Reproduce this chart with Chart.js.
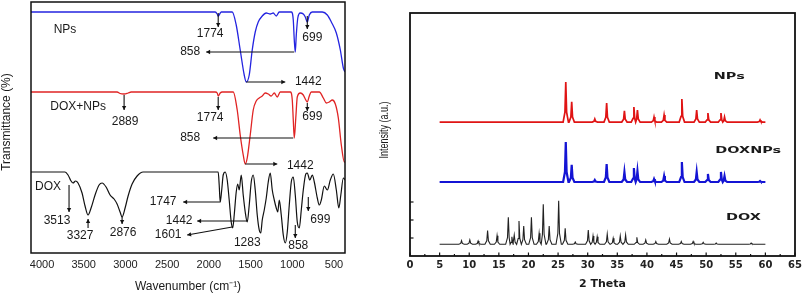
<!DOCTYPE html>
<html>
<head>
<meta charset="utf-8">
<script src="https://cdn.jsdelivr.net/npm/chart.js@4.4.1/dist/chart.umd.min.js"></script>
<style>
  html, body { margin: 0; padding: 0; background: #fff; }
  #ftir { position: absolute; left: 0; top: 0; }
  #xrd { position: absolute; left: 360px; top: 0; }
</style>
</head>
<body>
<canvas id="ftir" width="360" height="296"></canvas>
<canvas id="xrd" width="450" height="296"></canvas>
<script>
// ---- FTIR spectra: [wavenumber cm-1, transmittance (offset, arbitrary)] ----
const npsSpectrum = [
  [4132, 241], [1924, 241], [1900, 239], [1888, 237], [1870, 239], [1852, 241],
  [1720, 241], [1672, 228], [1624, 203], [1576, 178], [1552, 171], [1516, 178],
  [1480, 203], [1444, 221], [1408, 231], [1360, 237], [1312, 240], [1264, 239],
  [1228, 240], [1192, 237], [1156, 241], [1012, 241], [988, 233], [976, 213],
  [964, 201], [952, 218], [934, 235], [904, 240], [868, 239], [844, 236],
  [820, 231], [796, 238], [760, 241], [640, 241], [580, 238], [532, 231],
  [472, 220], [424, 203], [388, 185], [368, 181]
];
const doxNpsSpectrum = [
  [4132, 161], [3100, 161], [3064, 159.5], [3016, 159], [2968, 160], [2932, 161],
  [1924, 161], [1900, 160], [1888, 157], [1864, 160], [1840, 161],
  [1708, 161], [1660, 143], [1624, 118], [1588, 98], [1564, 89], [1540, 95],
  [1504, 118], [1468, 143], [1432, 152], [1396, 155], [1360, 157], [1324, 160],
  [1288, 159], [1252, 157], [1216, 160], [1180, 156], [1144, 161], [1024, 161],
  [1000, 153], [988, 133], [976, 115], [958, 135], [940, 156], [904, 160],
  [868, 158], [844, 154], [820, 151], [796, 157], [772, 161], [676, 161],
  [628, 155], [592, 150], [556, 151], [520, 153], [484, 149], [448, 135],
  [412, 108], [376, 91], [368, 91]
];
const doxSpectrum = [
  [4132, 81], [3724, 81], [3688, 78], [3652, 72], [3628, 70], [3598, 72],
  [3568, 70], [3520, 60], [3484, 47], [3448, 38], [3412, 45], [3364, 58],
  [3316, 68], [3280, 70], [3232, 66], [3184, 58], [3136, 54], [3100, 49],
  [3064, 41], [3040, 36], [3004, 45], [2968, 57], [2920, 69], [2860, 77],
  [2788, 81], [1888, 81], [1876, 68], [1864, 51], [1846, 63], [1828, 78],
  [1804, 81], [1780, 73], [1756, 53], [1732, 31], [1714, 25], [1696, 38],
  [1672, 61], [1654, 69], [1636, 63], [1612, 78], [1588, 58], [1564, 41],
  [1540, 31], [1516, 48], [1492, 71], [1468, 78], [1444, 63], [1420, 38],
  [1396, 23], [1378, 20], [1360, 33], [1336, 43], [1312, 55], [1288, 71],
  [1264, 80], [1240, 63], [1216, 53], [1192, 45], [1174, 41], [1156, 53],
  [1132, 38], [1108, 18], [1084, 10], [1060, 21], [1036, 48], [1012, 71],
  [988, 76], [964, 58], [940, 31], [916, 25], [892, 43], [868, 63],
  [838, 79], [820, 80], [790, 73], [760, 78], [736, 71], [700, 55],
  [676, 48], [652, 53], [616, 67], [580, 63], [544, 73], [508, 79],
  [472, 63], [442, 45], [418, 58], [388, 75], [368, 73]
];
const ftirTicks = [4000, 3500, 3000, 2500, 2000, 1500, 1000, 500];

// ---- XRD patterns: peak positions (2 theta) and peak tops ----
const npsBase = 7.44;
const npsPeakPos = [26.3, 27.3, 31.2, 33.2, 36.2, 37.8, 38.4, 41.2, 42.9, 45.9, 48.4, 50.3, 52.5, 53.1, 59.1];
const npsPeakTop = [9.67, 8.56, 7.61, 8.5, 8.06, 8.28, 8.11, 7.72, 7.83, 8.72, 8.11, 7.94, 7.94, 7.72, 7.56];
const doxNpsBase = 4.11;
const doxNpsPeakPos = [26.3, 27.3, 31.2, 33.2, 36.2, 37.8, 38.4, 41.2, 42.9, 45.9, 48.4, 50.3, 52.5, 53.1, 59.1];
const doxNpsPeakTop = [6.33, 5.06, 4.22, 5.11, 4.67, 4.89, 4.72, 4.28, 4.44, 5.22, 4.67, 4.56, 4.67, 4.44, 4.17];
const doxBase = 0.65;
const doxPeakPos = [8.7, 10.1, 11.5, 13.1, 14.7, 16.6, 17.2, 17.6, 18.4, 19.2, 20.5, 21.8, 22.5, 23.5,
  25.1, 26.2, 27.9, 30.1, 30.9, 31.6, 33.3, 34.3, 35.5, 36.4, 38.3, 39.8, 41.5, 43.8, 45.8, 47.8, 49.5, 51.7, 57.6];
const doxPeakTop = [0.85, 0.89, 0.83, 1.41, 1.13, 2.15, 1.07, 1.17, 1.94, 1.67, 2.15, 1.26, 2.87, 1.67,
  3.07, 1.54, 0.78, 1.44, 1.11, 1.07, 1.22, 0.98, 1.11, 1.17, 1.04, 0.89, 0.81, 0.94, 0.81, 0.81, 0.76, 0.72, 0.72];

// ---- annotations ----
const ftirLabels = [
  ["NPs", 3724, 223], ["1774", 1984, 219], ["699", 760, 215], ["858", 2224, 201], ["1442", 808, 171],
  ["DOX+NPs", 3568, 146], ["2889", 3004, 131], ["1774", 1984, 135], ["699", 760, 136], ["858", 2224, 115], ["1442", 904, 87],
  ["DOX", 3928, 66], ["3513", 3820, 32], ["3327", 3544, 17], ["2876", 3028, 20], ["1747", 2548, 51],
  ["1442", 2356, 32], ["1601", 2488, 18], ["1283", 1540, 10], ["858", 928, 7], ["699", 664, 33]
];
const ftirArrows = [
  [1888, 240, 1888, 226], [820, 237, 820, 224], [976, 201, 2032, 201], [1552, 171, 1084, 171],
  [3016, 158, 3016, 143], [1888, 156, 1888, 143], [820, 150, 820, 142], [988, 115, 1948, 115], [1564, 89, 1180, 89],
  [3676, 68, 3676, 41], [3448, 25, 3448, 34], [3040, 36, 3040, 29], [1864, 51, 2308, 51],
  [1540, 32, 2140, 32], [1720, 26, 2260, 18], [964, 28, 964, 15], [808, 56, 808, 42]
];
const xrdLabels = [["NPs", 53.9, 9.94], ["DOXNPs", 57.1, 5.83], ["DOX", 56.3, 2.11]];

function toPoints(pairs) {
  return pairs.map(([x, y]) => ({ x, y }));
}

// each peak drawn as a narrow spike on the pattern's baseline
function pattern(base, pos, tops) {
  const pts = [{ x: 5, y: base }];
  let last = 5;
  pos.forEach((p, i) => {
    const l = Math.max(p - 0.45, last);
    const rise = base + (tops[i] - base) * 0.25;
    pts.push({ x: l, y: base }, { x: p - 0.14, y: rise }, { x: p, y: tops[i] }, { x: p + 0.14, y: rise });
    last = Math.min(p + 0.45, i < pos.length - 1 ? (p + pos[i + 1]) / 2 : 60);
    pts.push({ x: last, y: base });
  });
  pts.push({ x: 60, y: base });
  return pts;
}

function arrow(ctx, x1, y1, x2, y2) {
  ctx.beginPath();
  ctx.moveTo(x1, y1);
  ctx.lineTo(x2, y2);
  ctx.stroke();
  const a = Math.atan2(y2 - y1, x2 - x1);
  const s = 4.5;
  ctx.beginPath();
  ctx.moveTo(x2, y2);
  ctx.lineTo(x2 - s * Math.cos(a - 0.5), y2 - s * Math.sin(a - 0.5));
  ctx.lineTo(x2 - s * Math.cos(a + 0.5), y2 - s * Math.sin(a + 0.5));
  ctx.closePath();
  ctx.fill();
}

const ftirDecor = {
  id: "ftirDecor",
  afterDraw(chart) {
    const { ctx, chartArea: a, scales: { x, y } } = chart;
    ctx.save();
    ctx.strokeStyle = "#111";
    ctx.lineWidth = 1.5;
    ctx.strokeRect(a.left, a.top, a.right - a.left, a.bottom - a.top);

    ctx.fillStyle = "#1a1a1a";
    ctx.font = "12px 'Liberation Sans', Arial, sans-serif";
    ctx.textAlign = "center";
    ctx.textBaseline = "middle";
    ftirLabels.forEach(([t, wn, v]) => ctx.fillText(t, x.getPixelForValue(wn), y.getPixelForValue(v)));

    ctx.strokeStyle = "#111";
    ctx.fillStyle = "#111";
    ctx.lineWidth = 1.1;
    ftirArrows.forEach(([w1, v1, w2, v2]) =>
      arrow(ctx, x.getPixelForValue(w1), y.getPixelForValue(v1), x.getPixelForValue(w2), y.getPixelForValue(v2)));

    // y axis title
    ctx.translate(7, 122);
    ctx.rotate(-Math.PI / 2);
    ctx.fillStyle = "#1a1a1a";
    ctx.fillText("Transmittance (%)", 0, 0);
    ctx.restore();
  }
};

const xrdDecor = {
  id: "xrdDecor",
  afterDraw(chart) {
    const { ctx, chartArea: a, scales: { x, y } } = chart;
    ctx.save();
    ctx.strokeStyle = "#111";
    ctx.lineWidth = 1.8;
    ctx.strokeRect(a.left, a.top, a.right - a.left, a.bottom - a.top);

    // inner tick marks
    ctx.lineWidth = 1.2;
    for (let v = 0; v <= 65; v += 2.5) {
      const px = x.getPixelForValue(v);
      const len = v % 5 === 0 ? 3.5 : 2;
      ctx.beginPath();
      ctx.moveTo(px, a.bottom);
      ctx.lineTo(px, a.bottom - len);
      ctx.stroke();
    }
    [1, 2, 3].forEach((v) => {
      const py = y.getPixelForValue(v);
      ctx.beginPath();
      ctx.moveTo(a.left, py);
      ctx.lineTo(a.left + 3.5, py);
      ctx.stroke();
    });

    ctx.fillStyle = "#1a1a1a";
    ctx.font = "bold 9px 'DejaVu Sans', sans-serif";
    ctx.textAlign = "center";
    ctx.textBaseline = "middle";
    xrdLabels.forEach(([t, tx, ty]) => {
      ctx.save();
      ctx.translate(x.getPixelForValue(tx), y.getPixelForValue(ty));
      ctx.scale(1.6, 1);
      ctx.fillText(t, 0, 0);
      ctx.restore();
    });

    ctx.translate(25, 130);
    ctx.rotate(-Math.PI / 2);
    ctx.scale(0.75, 1);
    ctx.font = "12px 'Liberation Sans', Arial, sans-serif";
    ctx.fillText("Intensity (a.u.)", 0, 0);
    ctx.restore();
  }
};

new Chart(document.getElementById("ftir"), {
  type: "line",
  data: {
    datasets: [
      { data: toPoints(npsSpectrum), borderColor: "#2424e0", borderWidth: 1.3 },
      { data: toPoints(doxNpsSpectrum), borderColor: "#e02424", borderWidth: 1.3 },
      { data: toPoints(doxSpectrum), borderColor: "#111", borderWidth: 1.2 }
    ]
  },
  options: {
    responsive: false,
    animation: false,
    layout: { padding: { left: 31, right: 15, top: 2, bottom: 0 } },
    elements: { point: { radius: 0 }, line: { cubicInterpolationMode: "monotone" } },
    plugins: { legend: { display: false }, tooltip: { enabled: false } },
    scales: {
      x: {
        type: "linear",
        reverse: true,
        min: 368,
        max: 4132,
        afterFit: (s) => { s.height = 43; },
        afterBuildTicks: (s) => { s.ticks = ftirTicks.map((v) => ({ value: v })); },
        grid: { display: false, drawTicks: false },
        border: { display: false },
        ticks: {
          padding: 5,
          color: "#222",
          font: { family: "'Liberation Sans', Arial, sans-serif", size: 11 },
          callback: (v) => String(v)
        },
        title: {
          display: true,
          text: "Wavenumber (cm\u207B\u00B9)",
          color: "#1a1a1a",
          font: { family: "'Liberation Sans', Arial, sans-serif", size: 12 },
          padding: { top: 0, bottom: 2 }
        }
      },
      y: { display: false, min: 0, max: 251 }
    }
  },
  plugins: [ftirDecor]
});

new Chart(document.getElementById("xrd"), {
  type: "line",
  data: {
    datasets: [
      { data: pattern(npsBase, npsPeakPos, npsPeakTop), borderColor: "#e01414", borderWidth: 1.7 },
      { data: pattern(doxNpsBase, doxNpsPeakPos, doxNpsPeakTop), borderColor: "#1414d4", borderWidth: 2.2 },
      { data: pattern(doxBase, doxPeakPos, doxPeakTop), borderColor: "#222", borderWidth: 1.1 }
    ]
  },
  options: {
    responsive: false,
    animation: false,
    layout: { padding: { left: 50, right: 15, top: 13, bottom: 0 } },
    elements: { point: { radius: 0 }, line: { tension: 0 } },
    plugins: { legend: { display: false }, tooltip: { enabled: false } },
    scales: {
      x: {
        type: "linear",
        min: 0,
        max: 65,
        afterFit: (s) => { s.height = 40; },
        grid: { display: false, drawTicks: false },
        border: { display: false },
        ticks: {
          stepSize: 5,
          padding: 3,
          color: "#222",
          font: { family: "'DejaVu Sans', sans-serif", size: 10, weight: "bold" }
        },
        title: {
          display: true,
          text: "2 Theta",
          color: "#1a1a1a",
          font: { family: "'DejaVu Sans', sans-serif", size: 11, weight: "bold" },
          padding: { top: 0, bottom: 5 }
        }
      },
      y: { display: false, min: 0, max: 13.5 }
    }
  },
  plugins: [xrdDecor]
});
</script>
</body>
</html>
